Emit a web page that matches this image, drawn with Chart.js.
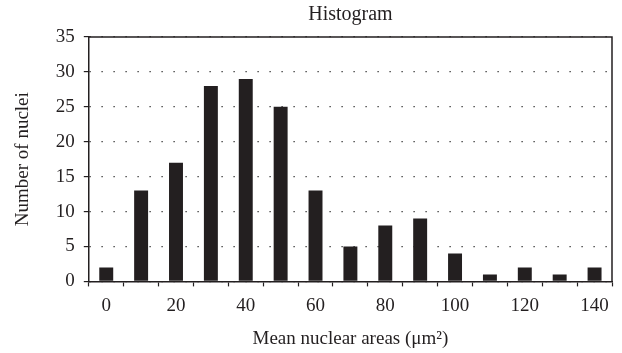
<!DOCTYPE html>
<html>
<head>
<meta charset="utf-8">
<script src="https://cdn.jsdelivr.net/npm/chart.js@4"></script>
<style>
  html, body { margin: 0; padding: 0; background: #fff; }
  #wrap { width: 622px; height: 353px; position: relative; }
</style>
</head>
<body>
<div id="wrap"><canvas id="histChart"></canvas></div>
<script>
// --- Data ---
const binLabels = ['0', '10', '20', '30', '40', '50', '60', '70', '80', '90', '100', '110', '120', '130', '140'];
const nucleiCounts = [2, 13, 17, 28, 29, 25, 13, 5, 8, 9, 4, 1, 2, 1, 2];
const yTickMax = 35;
const yTickStep = 5;

const ink = '#231f20';
const serif = "'Liberation Serif', 'DejaVu Serif', serif";
const fontSize = 19;

// top + right frame of the plot box
const frameBox = {
    id: 'frameBox',
    afterDatasetsDraw(chart) {
        const { ctx, chartArea: a } = chart;
        ctx.save();
        ctx.strokeStyle = ink;
        ctx.lineWidth = 1.5;
        ctx.beginPath();
        ctx.moveTo(a.left, a.top);
        ctx.lineTo(a.right, a.top);
        ctx.lineTo(a.right, a.bottom);
        ctx.stroke();
        ctx.restore();
    }
};

const ctx = document.getElementById('histChart').getContext('2d');
new Chart(ctx, {
    type: 'bar',
    data: {
        labels: binLabels,
        datasets: [{
            data: nucleiCounts,
            backgroundColor: ink,
            borderWidth: 0,
            barPercentage: 0.4,
            categoryPercentage: 1.0
        }]
    },
    options: {
        responsive: true,
        maintainAspectRatio: false,
        animation: false,
        layout: { padding: { top: 0, right: 10, bottom: 0, left: 0 } },
        plugins: {
            legend: { display: false },
            tooltip: { enabled: false },
            title: {
                display: true,
                fullSize: false, // centre over the plot area
                text: 'Histogram',
                color: ink,
                font: { family: serif, size: 20, weight: 'normal' },
                padding: { top: 3, bottom: 10 }
            }
        },
        scales: {
            x: {
                offset: true,
                grid: {
                    offset: true,
                    drawOnChartArea: false,
                    drawTicks: true,
                    tickLength: 5,
                    tickColor: ink,
                    tickWidth: 1.2
                },
                border: { display: true, color: ink, width: 1.5 },
                ticks: {
                    autoSkip: false,
                    maxRotation: 0,
                    color: ink,
                    padding: 8,
                    font: { family: serif, size: fontSize },
                    callback: (v, i) => (i % 2 === 0 ? binLabels[i] : '')
                },
                title: {
                    display: true,
                    text: 'Mean nuclear areas (\u03bcm\u00b2)',
                    color: ink,
                    font: { family: serif, size: fontSize },
                    padding: { top: 2, bottom: 3 }
                }
            },
            y: {
                min: 0,
                max: yTickMax,
                grid: {
                    color: '#222',
                    lineWidth: 1.2,
                    drawTicks: true,
                    tickLength: 5,
                    tickColor: ink,
                    tickBorderDash: [],
                    tickWidth: 1.2
                },
                border: { display: true, color: ink, width: 1.5, dash: [1.2, 10.8] },
                ticks: {
                    stepSize: yTickStep,
                    color: ink,
                    padding: 9,
                    font: { family: serif, size: fontSize }
                },
                title: {
                    display: true,
                    text: 'Number of nuclei',
                    color: ink,
                    font: { family: serif, size: fontSize },
                    padding: { top: 12, bottom: 12 }
                }
            }
        }
    },
    plugins: [frameBox]
});
</script>
</body>
</html>
